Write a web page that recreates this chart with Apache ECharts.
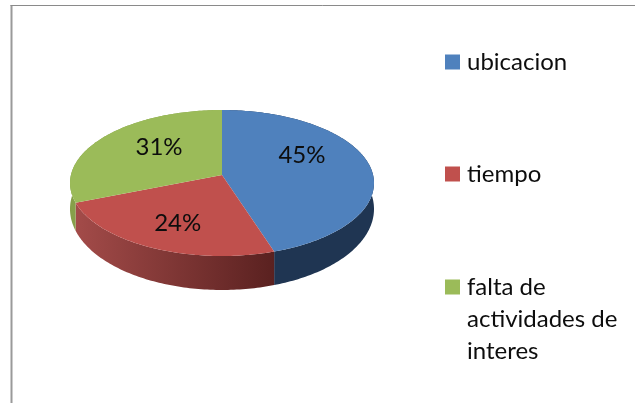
<!DOCTYPE html>
<html>
<head>
<meta charset="utf-8">
<style>html,body{margin:0;padding:0;background:#fff}#c{width:635px;height:403px}</style>
<script src="https://cdn.jsdelivr.net/npm/echarts@6/dist/echarts.min.js"></script>
</head>
<body>
<div id="c"></div>
<script>
var categories = ['ubicacion', 'tiempo', 'falta de\nactividades de\ninteres'];
var values = [45, 24, 31];
var topColors = ['#4f81bd', '#c0504d', '#9bbb59'];

var total = values.reduce(function (a, b) { return a + b; }, 0);
var FONT = 'Lato, "Open Sans", sans-serif';
var CX = 222, CY = 183, RX = 152, RY = 73, E = 0.11;
var labelNudge = [[-11, -13], [0, 3], [10, -4]];
var legendTops = [46, 158, 207];

function sideFill(i) {
  if (i === 0) return '#1f3552';
  if (i === 2) return '#86a04a';
  return { type: 'linear', x: 0, y: 0, x2: 1, y2: 0, colorStops: [
    { offset: 0, color: '#a34b49' }, { offset: 1, color: '#5a2120' }
  ] };
}
function rim(deg) {
  var a = deg * Math.PI / 180, u = -Math.cos(a), v = Math.sin(a);
  var den = 1 - E * u;
  var uu = (u - E) / den, vv = v * Math.sqrt(1 - E * E) / den;
  return [CX + RX * vv, CY + RY * uu];
}
// Wall height grows toward the viewer, as in the perspective of the original.
function lower(p) {
  var uu = (p[1] - CY) / RY;
  return [p[0], p[1] + 26 + 8 * uu];
}
function makeRender(i) {
  return function (params, api) {
    var before = values.slice(0, i).reduce(function (a, b) { return a + b; }, 0);
    var v = api.value(0);
    var a0 = before / total * 360, a1 = (before + v) / total * 360;
    var arc = [], d;
    for (d = a0; d < a1; d += 1) arc.push(rim(d));
    arc.push(rim(a1));
    var low = arc.map(lower).reverse();
    var apex = [CX, CY - RY * E];
    var mid = rim((a0 + a1) / 2);
    return { type: 'group', children: [
      { type: 'polygon', z2: 1, shape: { points: arc.concat(low) }, style: { fill: sideFill(i) } },
      { type: 'polygon', z2: 2, shape: { points: [apex].concat(arc) }, style: { fill: topColors[i] } },
      { type: 'text', z2: 3, style: {
        text: v + '%',
        x: apex[0] + (mid[0] - apex[0]) * 0.62 + labelNudge[i][0],
        y: apex[1] + (mid[1] - apex[1]) * 0.62 + labelNudge[i][1],
        align: 'center', verticalAlign: 'middle', fill: '#0d0d0d', font: '24px ' + FONT
      } }
    ] };
  };
}

var chart = echarts.init(document.getElementById('c'), null, { renderer: 'canvas' });
chart.setOption({
  animation: false,
  backgroundColor: '#fff',
  legend: categories.map(function (name, i) {
    return {
      data: [name], left: 445, top: legendTops[i], orient: 'vertical', padding: 0,
      icon: 'rect', itemWidth: 15, itemHeight: 15, selectedMode: false,
      formatter: function (n) { return n.indexOf('\n') >= 0 ? '\n\n' + n : n; },
      textStyle: { fontFamily: FONT, fontSize: 24, color: '#0d0d0d', lineHeight: 32, padding: [0, 0, 0, 2] }
    };
  }),
  graphic: [
    { type: 'line', silent: true, shape: { x1: 11.5, y1: 5, x2: 11.5, y2: 403 }, style: { stroke: '#9a9a9a', lineWidth: 2 } },
    { type: 'line', silent: true, shape: { x1: 10.5, y1: 5.5, x2: 635, y2: 5.5 }, style: { stroke: '#8a8a8a', lineWidth: 1 } }
  ],
  series: categories.map(function (name, i) {
    return {
      type: 'custom', name: name, coordinateSystem: 'none', silent: true,
      itemStyle: { color: topColors[i] },
      renderItem: makeRender(i), data: [[values[i]]]
    };
  })
});
</script>
</body>
</html>
